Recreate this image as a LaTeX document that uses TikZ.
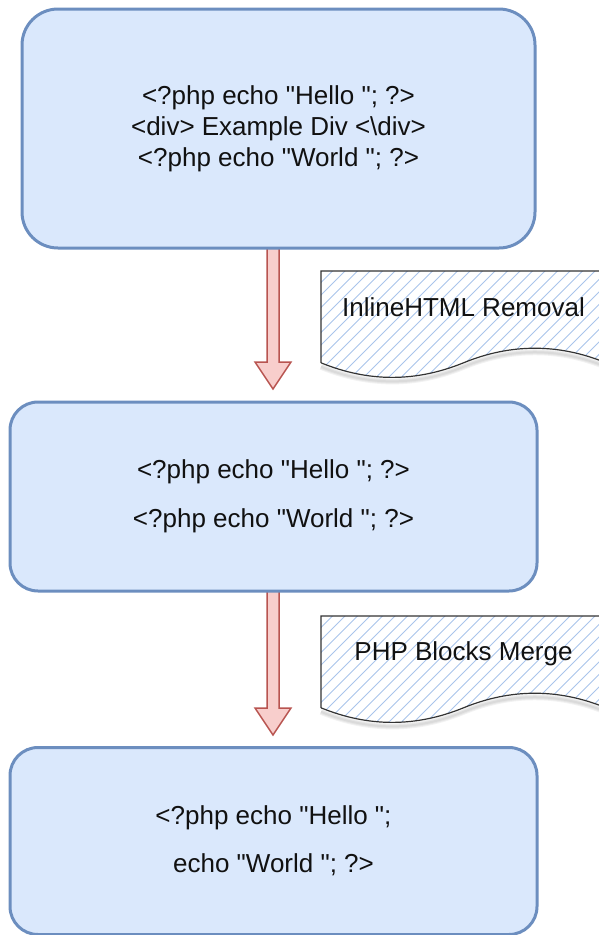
\documentclass[tikz,border=0pt]{standalone}
\usepackage{fontspec}
\setmainfont{Liberation Sans}[Ligatures=TeXOff]
\usetikzlibrary{calc}
\definecolor{boxfill}{HTML}{DAE8FC}
\definecolor{boxline}{HTML}{6C8EBF}
\definecolor{arrfill}{HTML}{F8CECC}
\definecolor{arrline}{HTML}{B85450}
\definecolor{hatchc}{HTML}{A9C4EB}
\definecolor{txt}{HTML}{111111}
\tikzset{
  box/.style={draw=boxline, fill=boxfill, line width=3pt, align=center, text=txt,
    font=\fontsize{26}{31}\selectfont, inner sep=0pt, outer sep=0pt},
  fatarrow/.style={draw=arrline, fill=arrfill, line width=1.5pt, line join=miter},
  docshape/.style={draw=black!80, line width=1.2pt},
  docshadow/.style={draw=black, opacity=0.05, line width=#1},
  hatch/.style={draw=hatchc, line width=0.9pt},
  doclabel/.style={text=txt, font=\fontsize{26}{31}\selectfont, inner sep=0pt},
}
\begin{document}
\begin{tikzpicture}[x=1pt,y=-1pt]
\useasboundingbox (0,0) rectangle (598,935);

% document shape 1
\foreach \w in {2,4,6}
  \draw[docshadow=\w pt] (321,366.8)
     .. controls (368.5,386.24) and (416.0,386.24) .. (463.5,366.8)
     .. controls (511.0,347.36) and (558.5,347.36) .. (606,366.8);
\begin{scope}
  \clip (321,271) -- (606,271) -- (606,362.8)
     .. controls (558.5,343.36) and (511.0,343.36) .. (463.5,362.8)
     .. controls (416.0,382.24) and (368.5,382.24) .. (321,362.8) -- cycle;
  \foreach \i in {-120,-107.5,...,320}
    \draw[hatch] (321+\i,390) -- ++(130,-130);
\end{scope}
\draw[docshape] (321,362.8) -- (321,271) -- (606,271) -- (606,362.8)
     .. controls (558.5,343.36) and (511.0,343.36) .. (463.5,362.8)
     .. controls (416.0,382.24) and (368.5,382.24) .. (321,362.8);
\node[doclabel] (t1) at (463.5,307) {InlineHTML Removal};

% document shape 2
\foreach \w in {2,4,6}
  \draw[docshadow=\w pt] (321,711.8)
     .. controls (368.5,731.24) and (416.0,731.24) .. (463.5,711.8)
     .. controls (511.0,692.36) and (558.5,692.36) .. (606,711.8);
\begin{scope}
  \clip (321,616) -- (606,616) -- (606,707.8)
     .. controls (558.5,688.36) and (511.0,688.36) .. (463.5,707.8)
     .. controls (416.0,727.24) and (368.5,727.24) .. (321,707.8) -- cycle;
  \foreach \i in {-120,-107.5,...,320}
    \draw[hatch] (321+\i,735) -- ++(130,-130);
\end{scope}
\draw[docshape] (321,707.8) -- (321,616) -- (606,616) -- (606,707.8)
     .. controls (558.5,688.36) and (511.0,688.36) .. (463.5,707.8)
     .. controls (416.0,727.24) and (368.5,727.24) .. (321,707.8);
\node[doclabel] (t2) at (463.5,654) {PHP Blocks Merge};

% arrows
\coordinate (a1s) at (273,246);
\coordinate (a1t) at (273,389);
\coordinate (a2s) at (273,589);
\coordinate (a2t) at (273,735);
\foreach \s/\t in {a1s/a1t, a2s/a2t}{
  \draw[fatarrow] ($(\s)+(-6,0)$) -- ($(\t)+(-6,-27)$) -- ($(\t)+(-18,-27)$) -- (\t)
     -- ($(\t)+(18,-27)$) -- ($(\t)+(6,-27)$) -- ($(\s)+(6,0)$) -- cycle;
}

% boxes
\node[box, rounded corners=36pt, minimum width=513pt, minimum height=239pt] (b1) at (278.5,128.5)
  {<?php echo "Hello "; ?>\\<div> Example Div <\textbackslash div>\\<?php echo "World "; ?>};
\node[box, rounded corners=28pt, minimum width=527pt, minimum height=189pt] (b2) at (273.5,496.5)
  {<?php echo "Hello "; ?>\\[18pt]<?php echo "World "; ?>};
\node[box, rounded corners=28pt, minimum width=527pt, minimum height=187pt] (b3) at (273.5,841)
  {<?php echo "Hello ";\\[17pt]echo "World "; ?>};
\end{tikzpicture}
\end{document}
